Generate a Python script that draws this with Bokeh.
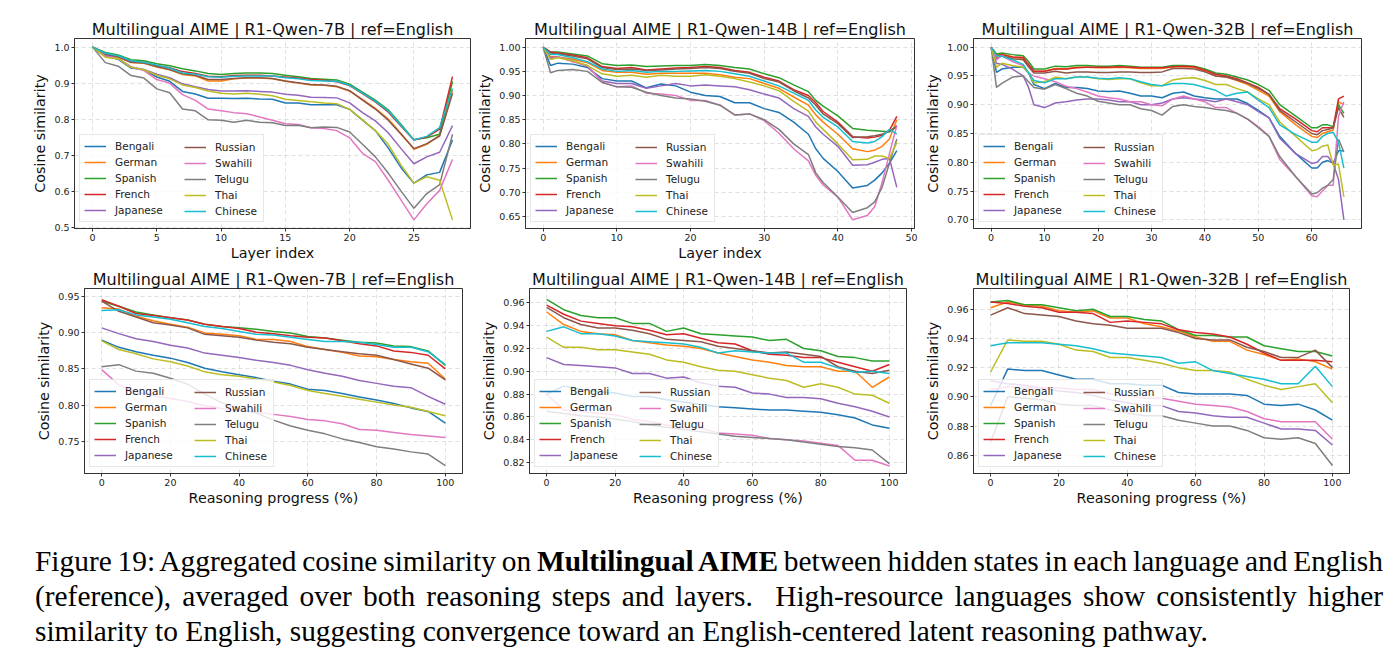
from bokeh.plotting import figure
from bokeh.models import Legend, LegendItem, FixedTicker, PrintfTickFormatter, Range1d, Div
from bokeh.layouts import row, column
from bokeh.embed import file_html
from bokeh.resources import INLINE

LANGS = ["Bengali", "German", "Spanish", "French", "Japanese",
         "Russian", "Swahili", "Telugu", "Thai", "Chinese"]
COLORS = ["#1f77b4", "#ff7f0e", "#2ca02c", "#d62728", "#9467bd",
          "#8c564b", "#e377c2", "#7f7f7f", "#bcbd22", "#17becf"]

# ---------------- layer-wise similarity, R1-Qwen-7B ----------------
layers_7b = list(range(29))
layer_sim_7b = {
    "Bengali": [1.0, 0.975, 0.966, 0.942, 0.937, 0.917, 0.905, 0.877, 0.87, 0.858, 0.858, 0.857, 0.858, 0.856, 0.855, 0.845, 0.845, 0.84, 0.84, 0.84, 0.827, 0.797, 0.768, 0.72, 0.665, 0.622, 0.645, 0.652, 0.742],
    "German": [1.0, 0.98, 0.972, 0.957, 0.955, 0.945, 0.937, 0.924, 0.92, 0.906, 0.906, 0.912, 0.914, 0.914, 0.912, 0.905, 0.9, 0.895, 0.894, 0.89, 0.878, 0.855, 0.83, 0.8, 0.76, 0.716, 0.73, 0.755, 0.88],
    "Spanish": [1.0, 0.985, 0.978, 0.965, 0.962, 0.954, 0.948, 0.94, 0.934, 0.927, 0.924, 0.927, 0.928, 0.928, 0.927, 0.922, 0.918, 0.913, 0.911, 0.909, 0.897, 0.875, 0.853, 0.826, 0.785, 0.743, 0.748, 0.758, 0.905],
    "French": [1.0, 0.982, 0.975, 0.96, 0.958, 0.948, 0.943, 0.932, 0.927, 0.919, 0.918, 0.921, 0.922, 0.922, 0.92, 0.917, 0.914, 0.91, 0.908, 0.904, 0.893, 0.871, 0.848, 0.82, 0.78, 0.742, 0.75, 0.772, 0.918],
    "Japanese": [1.0, 0.977, 0.968, 0.945, 0.938, 0.925, 0.915, 0.898, 0.89, 0.882, 0.878, 0.878, 0.879, 0.877, 0.875, 0.869, 0.866, 0.861, 0.86, 0.859, 0.845, 0.818, 0.795, 0.762, 0.718, 0.676, 0.695, 0.708, 0.782],
    "Russian": [1.0, 0.98, 0.973, 0.958, 0.956, 0.946, 0.938, 0.926, 0.922, 0.91, 0.91, 0.913, 0.915, 0.915, 0.913, 0.906, 0.901, 0.896, 0.895, 0.891, 0.879, 0.853, 0.828, 0.797, 0.758, 0.718, 0.732, 0.753, 0.872],
    "Swahili": [1.0, 0.975, 0.968, 0.945, 0.935, 0.91, 0.9, 0.868, 0.852, 0.828, 0.823, 0.818, 0.815, 0.806, 0.797, 0.787, 0.785, 0.776, 0.774, 0.768, 0.748, 0.705, 0.682, 0.63, 0.575, 0.52, 0.565, 0.602, 0.688],
    "Telugu": [1.0, 0.957, 0.947, 0.921, 0.914, 0.884, 0.873, 0.828, 0.823, 0.798, 0.797, 0.791, 0.797, 0.791, 0.79, 0.782, 0.783, 0.776, 0.778, 0.777, 0.764, 0.73, 0.695, 0.65, 0.6, 0.552, 0.593, 0.618, 0.758],
    "Thai": [1.0, 0.972, 0.968, 0.944, 0.937, 0.922, 0.912, 0.895, 0.888, 0.878, 0.872, 0.87, 0.872, 0.869, 0.865, 0.855, 0.852, 0.848, 0.845, 0.843, 0.827, 0.798, 0.768, 0.73, 0.672, 0.622, 0.64, 0.63, 0.52],
    "Chinese": [1.0, 0.983, 0.976, 0.962, 0.958, 0.95, 0.942, 0.928, 0.925, 0.918, 0.916, 0.919, 0.92, 0.92, 0.92, 0.915, 0.912, 0.907, 0.906, 0.905, 0.894, 0.872, 0.85, 0.823, 0.782, 0.742, 0.752, 0.776, 0.885],
}

# ---------------- layer-wise similarity, R1-Qwen-14B ----------------
layers_14b = [0, 1, 2, 4, 6, 8, 10, 12, 14, 16, 18, 20, 22, 24, 26, 28, 30, 32, 34, 36, 37, 38, 40, 42, 44, 45, 46, 47, 48]
layer_sim_14b = {
    "Bengali": [1.0, 0.962, 0.967, 0.965, 0.958, 0.935, 0.93, 0.93, 0.916, 0.924, 0.92, 0.907, 0.9, 0.898, 0.885, 0.885, 0.873, 0.865, 0.845, 0.82, 0.79, 0.77, 0.743, 0.709, 0.714, 0.725, 0.74, 0.76, 0.786],
    "German": [1.0, 0.98, 0.98, 0.975, 0.968, 0.952, 0.948, 0.948, 0.944, 0.946, 0.946, 0.946, 0.946, 0.943, 0.938, 0.935, 0.925, 0.915, 0.897, 0.88, 0.86, 0.845, 0.82, 0.79, 0.784, 0.787, 0.795, 0.81, 0.85],
    "Spanish": [1.0, 0.99, 0.99, 0.986, 0.982, 0.966, 0.962, 0.963, 0.96, 0.961, 0.962, 0.962, 0.964, 0.962, 0.958, 0.955, 0.945, 0.937, 0.922, 0.908, 0.89, 0.878, 0.858, 0.832, 0.828, 0.827, 0.826, 0.825, 0.838],
    "French": [1.0, 0.99, 0.988, 0.984, 0.978, 0.96, 0.956, 0.958, 0.953, 0.955, 0.957, 0.958, 0.96, 0.958, 0.952, 0.948, 0.938, 0.93, 0.912, 0.9, 0.885, 0.867, 0.845, 0.815, 0.812, 0.814, 0.818, 0.828, 0.857],
    "Japanese": [1.0, 0.978, 0.98, 0.972, 0.96, 0.93, 0.925, 0.925, 0.915, 0.92, 0.925, 0.92, 0.922, 0.92, 0.918, 0.912, 0.903, 0.895, 0.873, 0.857, 0.835, 0.82, 0.795, 0.756, 0.757, 0.762, 0.768, 0.77, 0.71],
    "Russian": [1.0, 0.988, 0.986, 0.982, 0.976, 0.958, 0.954, 0.955, 0.952, 0.953, 0.955, 0.956, 0.958, 0.956, 0.95, 0.946, 0.935, 0.928, 0.91, 0.895, 0.88, 0.862, 0.842, 0.813, 0.815, 0.817, 0.82, 0.826, 0.835],
    "Swahili": [1.0, 0.975, 0.98, 0.97, 0.962, 0.928, 0.918, 0.92, 0.905, 0.903, 0.9, 0.89, 0.89, 0.88, 0.86, 0.862, 0.848, 0.822, 0.79, 0.765, 0.735, 0.715, 0.69, 0.643, 0.652, 0.67, 0.72, 0.78, 0.838],
    "Telugu": [1.0, 0.947, 0.952, 0.954, 0.95, 0.927, 0.918, 0.917, 0.907, 0.9, 0.895, 0.893, 0.888, 0.88, 0.86, 0.862, 0.85, 0.83, 0.8, 0.778, 0.74, 0.72, 0.69, 0.658, 0.668, 0.68, 0.71, 0.76, 0.81],
    "Thai": [1.0, 0.975, 0.978, 0.972, 0.962, 0.945, 0.94, 0.942, 0.938, 0.942, 0.94, 0.94, 0.943, 0.94, 0.935, 0.928, 0.92, 0.91, 0.888, 0.868, 0.845, 0.83, 0.8, 0.767, 0.768, 0.775, 0.775, 0.77, 0.803],
    "Chinese": [1.0, 0.985, 0.985, 0.978, 0.97, 0.955, 0.95, 0.952, 0.948, 0.95, 0.95, 0.951, 0.952, 0.95, 0.945, 0.94, 0.93, 0.92, 0.905, 0.89, 0.87, 0.855, 0.835, 0.805, 0.802, 0.805, 0.815, 0.83, 0.82],
}

# ---------------- layer-wise similarity, R1-Qwen-32B ----------------
layers_32b = [0, 1, 2, 4, 6, 7, 8, 10, 12, 14, 16, 18, 20, 22, 24, 26, 28, 30, 32, 34, 36, 38, 40, 42, 44, 46, 48, 50, 52, 54, 57, 60, 61, 62, 63, 64, 65, 66]
layer_sim_32b = {
    "Bengali": [1.0, 0.956, 0.962, 0.965, 0.965, 0.955, 0.935, 0.928, 0.937, 0.93, 0.93, 0.928, 0.924, 0.923, 0.924, 0.92, 0.915, 0.915, 0.912, 0.92, 0.922, 0.915, 0.912, 0.91, 0.91, 0.91, 0.902, 0.89, 0.877, 0.845, 0.815, 0.79, 0.79, 0.8, 0.803, 0.798, 0.82, 0.82],
    "German": [1.0, 0.985, 0.988, 0.983, 0.98, 0.968, 0.958, 0.958, 0.963, 0.962, 0.965, 0.965, 0.964, 0.964, 0.965, 0.964, 0.963, 0.963, 0.963, 0.966, 0.966, 0.965, 0.958, 0.95, 0.948, 0.942, 0.935, 0.925, 0.915, 0.888, 0.865, 0.845, 0.843, 0.85, 0.853, 0.856, 0.905, 0.9],
    "Spanish": [1.0, 0.988, 0.99, 0.987, 0.985, 0.975, 0.962, 0.962, 0.967, 0.966, 0.968, 0.968, 0.967, 0.967, 0.968, 0.967, 0.965, 0.965, 0.965, 0.968, 0.968, 0.967, 0.962, 0.955, 0.953, 0.948, 0.943, 0.935, 0.925, 0.9, 0.88, 0.86, 0.86, 0.865, 0.865, 0.862, 0.9, 0.885],
    "French": [1.0, 0.985, 0.987, 0.983, 0.982, 0.97, 0.958, 0.958, 0.962, 0.962, 0.964, 0.965, 0.965, 0.965, 0.966, 0.965, 0.964, 0.964, 0.964, 0.966, 0.967, 0.966, 0.96, 0.953, 0.95, 0.945, 0.938, 0.93, 0.918, 0.893, 0.875, 0.855, 0.853, 0.86, 0.86, 0.86, 0.91, 0.915],
    "Japanese": [1.0, 0.972, 0.97, 0.962, 0.95, 0.93, 0.9, 0.895, 0.903, 0.905, 0.908, 0.91, 0.91, 0.908, 0.905, 0.905, 0.9, 0.9, 0.903, 0.91, 0.912, 0.91, 0.908, 0.905, 0.91, 0.905, 0.9, 0.888, 0.877, 0.842, 0.815, 0.798, 0.8, 0.81, 0.81, 0.798, 0.77, 0.7],
    "Russian": [1.0, 0.98, 0.985, 0.98, 0.978, 0.966, 0.955, 0.955, 0.958, 0.955, 0.957, 0.957, 0.956, 0.956, 0.957, 0.957, 0.956, 0.956, 0.957, 0.963, 0.963, 0.962, 0.957, 0.95, 0.948, 0.943, 0.937, 0.928, 0.918, 0.89, 0.87, 0.85, 0.848, 0.855, 0.857, 0.86, 0.895, 0.878],
    "Swahili": [1.0, 0.978, 0.985, 0.975, 0.968, 0.955, 0.95, 0.945, 0.94, 0.932, 0.928, 0.922, 0.915, 0.912, 0.91, 0.905, 0.905, 0.9, 0.898, 0.91, 0.915, 0.91, 0.905, 0.895, 0.895, 0.885, 0.875, 0.862, 0.845, 0.805, 0.775, 0.742, 0.74, 0.75, 0.76, 0.76, 0.88, 0.905],
    "Telugu": [1.0, 0.93, 0.937, 0.948, 0.95, 0.94, 0.93, 0.927, 0.935, 0.928, 0.92, 0.915, 0.906, 0.903, 0.9, 0.9, 0.893, 0.89, 0.882, 0.897, 0.9, 0.897, 0.895, 0.892, 0.89, 0.885, 0.875, 0.86, 0.845, 0.81, 0.775, 0.745, 0.747, 0.755, 0.76, 0.77, 0.84, 0.818],
    "Thai": [1.0, 0.965, 0.972, 0.968, 0.965, 0.955, 0.938, 0.94, 0.948, 0.945, 0.948, 0.948, 0.945, 0.944, 0.945, 0.945, 0.938, 0.933, 0.933, 0.943, 0.946, 0.947, 0.942, 0.935, 0.935, 0.928, 0.922, 0.91, 0.9, 0.87, 0.845, 0.82, 0.822, 0.828, 0.83, 0.795, 0.797, 0.74],
    "Chinese": [1.0, 0.985, 0.984, 0.978, 0.97, 0.955, 0.942, 0.938, 0.945, 0.945, 0.948, 0.948, 0.946, 0.945, 0.947, 0.945, 0.94, 0.935, 0.933, 0.937, 0.937, 0.935, 0.93, 0.925, 0.915, 0.92, 0.922, 0.908, 0.895, 0.865, 0.848, 0.835, 0.835, 0.845, 0.85, 0.852, 0.835, 0.79],
}

# ---------------- similarity along reasoning progress ----------------
progress = list(range(0, 101, 5))
progress_sim_7b = {
    "Bengali": [0.89, 0.88, 0.874, 0.869, 0.865, 0.859, 0.851, 0.846, 0.842, 0.838, 0.833, 0.829, 0.822, 0.82, 0.816, 0.811, 0.807, 0.802, 0.796, 0.791, 0.775],
    "German": [0.935, 0.933, 0.923, 0.917, 0.912, 0.908, 0.9, 0.898, 0.896, 0.891, 0.891, 0.888, 0.881, 0.877, 0.873, 0.868, 0.867, 0.863, 0.86, 0.858, 0.836],
    "Spanish": [0.944, 0.937, 0.929, 0.925, 0.921, 0.918, 0.912, 0.909, 0.907, 0.905, 0.902, 0.9, 0.895, 0.893, 0.89, 0.887, 0.886, 0.882, 0.881, 0.875, 0.855],
    "French": [0.946, 0.937, 0.927, 0.924, 0.921, 0.918, 0.912, 0.909, 0.906, 0.901, 0.899, 0.896, 0.894, 0.893, 0.889, 0.885, 0.882, 0.875, 0.873, 0.869, 0.85],
    "Japanese": [0.907, 0.899, 0.892, 0.888, 0.883, 0.879, 0.872, 0.869, 0.866, 0.862, 0.859, 0.855, 0.849, 0.844, 0.84, 0.834, 0.83, 0.826, 0.824, 0.812, 0.801],
    "Russian": [0.944, 0.93, 0.922, 0.914, 0.911, 0.907, 0.898, 0.896, 0.894, 0.89, 0.887, 0.885, 0.88, 0.877, 0.874, 0.871, 0.869, 0.863, 0.857, 0.851, 0.835],
    "Swahili": [0.849, 0.828, 0.818, 0.813, 0.809, 0.805, 0.799, 0.795, 0.792, 0.79, 0.787, 0.784, 0.78, 0.778, 0.774, 0.766, 0.765, 0.762, 0.759, 0.757, 0.755],
    "Telugu": [0.853, 0.856, 0.847, 0.844, 0.837, 0.829, 0.815, 0.803, 0.795, 0.789, 0.779, 0.771, 0.765, 0.76, 0.753, 0.748, 0.742, 0.739, 0.735, 0.732, 0.716],
    "Thai": [0.889, 0.877, 0.871, 0.864, 0.86, 0.854, 0.846, 0.842, 0.84, 0.836, 0.832, 0.827, 0.82, 0.816, 0.812, 0.808, 0.804, 0.8, 0.797, 0.791, 0.785],
    "Chinese": [0.931, 0.932, 0.925, 0.922, 0.919, 0.914, 0.909, 0.906, 0.902, 0.898, 0.897, 0.894, 0.891, 0.888, 0.888, 0.887, 0.884, 0.88, 0.88, 0.874, 0.856],
}
progress_sim_14b = {
    "Bengali": [0.88, 0.887, 0.884, 0.882, 0.881, 0.878, 0.878, 0.875, 0.873, 0.871, 0.869, 0.868, 0.867, 0.866, 0.866, 0.865, 0.864, 0.862, 0.859, 0.853, 0.85],
    "German": [0.952, 0.941, 0.935, 0.933, 0.932, 0.927, 0.925, 0.923, 0.922, 0.92, 0.916, 0.913, 0.91, 0.908, 0.905, 0.904, 0.904, 0.9, 0.9, 0.886, 0.895],
    "Spanish": [0.963, 0.954, 0.949, 0.947, 0.947, 0.942, 0.942, 0.935, 0.938, 0.933, 0.932, 0.931, 0.93, 0.927, 0.928, 0.92, 0.918, 0.913, 0.912, 0.909, 0.909],
    "French": [0.958, 0.95, 0.944, 0.942, 0.94, 0.939, 0.936, 0.932, 0.933, 0.929, 0.925, 0.924, 0.918, 0.915, 0.914, 0.912, 0.912, 0.908, 0.904, 0.9, 0.906],
    "Japanese": [0.912, 0.906, 0.905, 0.904, 0.903, 0.898, 0.898, 0.894, 0.895, 0.89, 0.887, 0.886, 0.881, 0.88, 0.877, 0.877, 0.876, 0.872, 0.869, 0.865, 0.86],
    "Russian": [0.956, 0.947, 0.941, 0.938, 0.938, 0.936, 0.933, 0.928, 0.927, 0.926, 0.922, 0.92, 0.918, 0.916, 0.917, 0.915, 0.913, 0.904, 0.9, 0.898, 0.901],
    "Swahili": [0.88, 0.866, 0.865, 0.863, 0.862, 0.858, 0.856, 0.853, 0.851, 0.85, 0.846, 0.845, 0.844, 0.841, 0.84, 0.839, 0.837, 0.835, 0.822, 0.822, 0.817],
    "Telugu": [0.865, 0.863, 0.861, 0.86, 0.858, 0.856, 0.853, 0.851, 0.849, 0.847, 0.845, 0.843, 0.842, 0.841, 0.84, 0.838, 0.836, 0.834, 0.833, 0.831, 0.819],
    "Thai": [0.93, 0.921, 0.921, 0.919, 0.919, 0.917, 0.915, 0.91, 0.908, 0.904, 0.901, 0.9, 0.897, 0.894, 0.892, 0.886, 0.889, 0.886, 0.88, 0.879, 0.872],
    "Chinese": [0.935, 0.939, 0.933, 0.933, 0.931, 0.927, 0.926, 0.925, 0.924, 0.921, 0.916, 0.918, 0.917, 0.916, 0.916, 0.908, 0.908, 0.903, 0.899, 0.9, 0.898],
}
progress_sim_32b = {
    "Bengali": [0.894, 0.919, 0.918, 0.918, 0.915, 0.912, 0.912, 0.909, 0.909, 0.908, 0.908, 0.903, 0.902, 0.902, 0.902, 0.901, 0.895, 0.894, 0.895, 0.891, 0.884],
    "German": [0.961, 0.965, 0.963, 0.962, 0.959, 0.958, 0.959, 0.954, 0.954, 0.95, 0.948, 0.945, 0.941, 0.938, 0.938, 0.932, 0.929, 0.925, 0.926, 0.924, 0.919],
    "Spanish": [0.965, 0.966, 0.963, 0.963, 0.961, 0.959, 0.96, 0.955, 0.955, 0.953, 0.952, 0.946, 0.942, 0.942, 0.941, 0.941, 0.935, 0.933, 0.931, 0.931, 0.928],
    "French": [0.965, 0.964, 0.962, 0.961, 0.958, 0.958, 0.957, 0.951, 0.952, 0.951, 0.95, 0.946, 0.944, 0.943, 0.941, 0.936, 0.93, 0.925, 0.925, 0.925, 0.924],
    "Japanese": [0.911, 0.909, 0.908, 0.906, 0.904, 0.903, 0.901, 0.898, 0.896, 0.894, 0.894, 0.89, 0.889, 0.887, 0.886, 0.886, 0.882, 0.878, 0.878, 0.877, 0.867],
    "Russian": [0.956, 0.961, 0.957, 0.956, 0.955, 0.952, 0.95, 0.949, 0.947, 0.947, 0.947, 0.944, 0.94, 0.939, 0.939, 0.934, 0.931, 0.927, 0.927, 0.932, 0.92],
    "Swahili": [0.905, 0.907, 0.906, 0.906, 0.906, 0.905, 0.905, 0.902, 0.901, 0.899, 0.899, 0.897, 0.895, 0.894, 0.893, 0.89, 0.885, 0.883, 0.883, 0.883, 0.871],
    "Telugu": [0.869, 0.9, 0.899, 0.898, 0.895, 0.894, 0.894, 0.891, 0.889, 0.887, 0.887, 0.884, 0.882, 0.88, 0.88, 0.877, 0.872, 0.871, 0.872, 0.868, 0.853],
    "Thai": [0.917, 0.939, 0.938, 0.938, 0.936, 0.932, 0.931, 0.927, 0.927, 0.925, 0.923, 0.92, 0.918, 0.918, 0.917, 0.912, 0.908, 0.905, 0.907, 0.909, 0.896],
    "Chinese": [0.935, 0.937, 0.937, 0.937, 0.936, 0.935, 0.933, 0.93, 0.929, 0.928, 0.927, 0.923, 0.924, 0.918, 0.916, 0.914, 0.912, 0.909, 0.909, 0.921, 0.907],
}

# tick positions
xticks_7b = [0, 5, 10, 15, 20, 25]
xticks_14b = [0, 10, 20, 30, 40, 50]
xticks_32b = [0, 10, 20, 30, 40, 50, 60]
xticks_progress = [0, 20, 40, 60, 80, 100]
yticks_layer_7b = [0.5, 0.6, 0.7, 0.8, 0.9, 1.0]
yticks_layer_14b = [0.65, 0.70, 0.75, 0.80, 0.85, 0.90, 0.95, 1.00]
yticks_layer_32b = [0.70, 0.75, 0.80, 0.85, 0.90, 0.95, 1.00]
yticks_prog_7b = [0.75, 0.80, 0.85, 0.90, 0.95]
yticks_prog_14b = [0.82, 0.84, 0.86, 0.88, 0.90, 0.92, 0.94, 0.96]
yticks_prog_32b = [0.86, 0.88, 0.90, 0.92, 0.94, 0.96]

FONT = "DejaVu Sans"
INK = "#222222"


def make_panel(title, xs, series, xr, yr, xticks, yticks, yfmt, xlabel,
               frame_w, frame_h, left, right, top, bottom):
    p = figure(frame_width=frame_w, frame_height=frame_h,
               min_border_left=left, min_border_right=right,
               min_border_top=top, min_border_bottom=bottom,
               x_range=Range1d(*xr), y_range=Range1d(*yr),
               output_backend="svg", toolbar_location=None, title=title)
    p.title.text_font = FONT
    p.title.text_font_size = "16px"
    p.title.text_font_style = "normal"
    p.title.text_color = "#111111"
    p.title.align = "center"
    p.title.standoff = 0

    p.outline_line_color = "#333333"
    p.outline_line_width = 1
    p.outline_line_alpha = 1
    p.background_fill_color = "white"

    for ax in (p.xaxis[0], p.yaxis[0]):
        ax.major_tick_out = 3
        ax.major_tick_in = 0
        ax.minor_tick_out = 0
        ax.minor_tick_in = 0
        ax.axis_line_color = "#333333"
        ax.major_tick_line_color = "#333333"
        ax.major_label_text_font = FONT
        ax.major_label_text_font_size = "9.5px"
        ax.major_label_text_color = INK
        ax.axis_label_text_font = FONT
        ax.axis_label_text_font_size = "14.3px"
        ax.axis_label_text_font_style = "normal"
        ax.axis_label_text_color = "#111111"
        ax.major_label_standoff = 2

    p.xaxis.ticker = FixedTicker(ticks=xticks)
    p.yaxis.ticker = FixedTicker(ticks=yticks)
    p.yaxis.formatter = PrintfTickFormatter(format=yfmt)
    p.xaxis.axis_label = xlabel
    p.yaxis.axis_label = "Cosine similarity"
    p.xaxis.axis_label_standoff = 1
    p.yaxis.axis_label_standoff = 3

    for g in (p.xgrid[0], p.ygrid[0]):
        g.grid_line_color = "#b8b8b8"
        g.grid_line_alpha = 0.55
        g.grid_line_dash = "4 3"
        g.grid_line_width = 0.8

    items = []
    for lang, col in zip(LANGS, COLORS):
        r = p.line(xs, series[lang], line_color=col, line_width=1.5)
        items.append(LegendItem(label=lang, renderers=[r]))

    common = dict(padding=4, spacing=2, glyph_width=22, glyph_height=14,
                  label_height=14, label_standoff=9, margin=0,
                  label_text_font=FONT, label_text_font_size="10.5px",
                  label_text_color=INK)
    box = Legend(items=items[:5], location=(5, 6), label_width=144,
                 border_line_color="#d0d0d0", border_line_width=1,
                 background_fill_color="white", background_fill_alpha=0.8,
                 **common)
    col2 = Legend(items=items[5:], location=(106, 6), label_width=20,
                  border_line_alpha=0, background_fill_alpha=0, **common)
    p.add_layout(box, "center")
    p.add_layout(col2, "center")
    return p


T7 = "Multilingual AIME | R1-Qwen-7B | ref=English"
T14 = "Multilingual AIME | R1-Qwen-14B | ref=English"
T32 = "Multilingual AIME | R1-Qwen-32B | ref=English"

p1 = make_panel(T7, layers_7b, layer_sim_7b, (-1.4, 29.4), (0.496, 1.024),
                xticks_7b, yticks_layer_7b, "%.1f", "Layer index",
                396, 190, 74, 4, 38, 38)
p2 = make_panel(T14, layers_14b, layer_sim_14b, (-2.4, 50.4), (0.625, 1.018),
                xticks_14b, yticks_layer_14b, "%.2f", "Layer index",
                389, 190, 49, 8, 38, 38)
p3 = make_panel(T32, layers_32b, layer_sim_32b, (-3.3, 69.3), (0.685, 1.015),
                xticks_32b, yticks_layer_32b, "%.2f", "",
                388, 190, 49, 36, 38, 38)

p4 = make_panel(T7, progress, progress_sim_7b, (-5, 105), (0.705, 0.9616),
                xticks_progress, yticks_prog_7b, "%.2f", "Reasoning progress (%)",
                378, 185, 84, 14, 22, 38)
p5 = make_panel(T14, progress, progress_sim_14b, (-5, 105), (0.8104, 0.9726),
                xticks_progress, yticks_prog_14b, "%.2f", "Reasoning progress (%)",
                377, 185, 53, 16, 22, 38)
p6 = make_panel(T32, progress, progress_sim_32b, (-5, 105), (0.8475, 0.9742),
                xticks_progress, yticks_prog_32b, "%.2f", "Reasoning progress (%)",
                376, 185, 51, 44, 22, 38)

caption_html = (
    '<div style="font-family:\'Liberation Serif\',\'Times New Roman\',serif;'
    'font-size:29.4px;line-height:35px;color:#000;width:1348px;'
    'margin-left:30px;padding-top:28px;">'
    '<div style="text-align:justify;text-align-last:justify;word-spacing:-2px;">'
    'Figure 19: Aggregated cosine similarity on <b>Multilingual AIME</b> between '
    'hidden states in each language and English</div>'
    '<div style="text-align:justify;text-align-last:justify;">(reference), averaged over '
    'both reasoning steps and layers.&nbsp; High-resource languages show consistently higher</div>'
    '<div style="text-align:left;">similarity to English, suggesting convergence toward an '
    'English-centered latent reasoning pathway.</div>'
    '</div>'
)
caption = Div(text=caption_html, width=1393, height=152)

layout = column(row(p1, p2, p3), row(p4, p5, p6), caption)

with open("out.html", "w") as f:
    f.write(file_html(layout, INLINE))
